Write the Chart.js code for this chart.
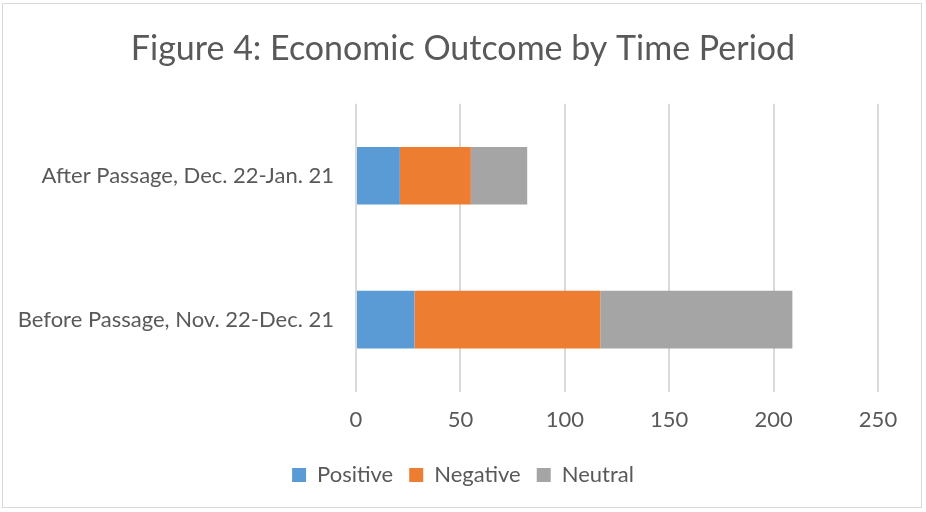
<!DOCTYPE html>
<html>
<head>
<meta charset="utf-8">
<script src="https://cdn.jsdelivr.net/npm/chart.js@4"></script>
<style>
html,body{margin:0;padding:0;background:#fff;}
#wrap{position:absolute;left:0;top:0;width:926px;height:512px;}
#frame{position:absolute;left:2px;top:3px;width:920px;height:505px;border:1px solid #d9d9d9;box-sizing:border-box;pointer-events:none;}
canvas{display:block;}
</style>
</head>
<body>
<div id="wrap"><canvas id="c" width="926" height="512"></canvas><div id="frame"></div></div>
<script>
const categories = ["After Passage, Dec. 22-Jan. 21", "Before Passage, Nov. 22-Dec. 21"];
const positive = [21, 28];
const negative = [34, 89];
const neutral = [27, 92];
const seriesNames = ["Positive", "Negative", "Neutral"];
const seriesColors = ["#5b9bd5", "#ed7d31", "#a5a5a5"];
const titleText = "Figure 4: Economic Outcome by Time Period";

const FONT = "Lato, 'Open Sans', sans-serif";
const ctx = document.getElementById('c');
new Chart(ctx, {
  type: 'bar',
  data: {
    labels: categories,
    datasets: [positive, negative, neutral].map((d, i) => ({
      label: seriesNames[i],
      data: d,
      backgroundColor: seriesColors[i],
      borderWidth: 0,
      categoryPercentage: 0.8,
      barPercentage: 0.5
    }))
  },
  options: {
    responsive: false,
    animation: false,
    indexAxis: 'y',
    layout: { padding: { left: 48, right: 48, top: 18, bottom: 16 } },
    plugins: {
      title: {
        display: true, text: titleText, color: '#595959',
        font: { family: FONT, size: 34, weight: 'normal' },
        padding: { top: 11, bottom: 34 }
      },
      legend: {
        position: 'bottom',
        labels: {
          color: '#595959', font: { family: FONT, size: 22 },
          boxWidth: 14, boxHeight: 14, padding: 16
        }
      },
      tooltip: { enabled: false }
    },
    scales: {
      x: {
        stacked: true, min: 0, max: 250,
        ticks: { stepSize: 50, color: '#595959', font: { family: FONT, size: 22 }, padding: 15 },
        grid: { color: '#d9d9d9', lineWidth: 2, drawTicks: false },
        border: { display: false }
      },
      y: {
        stacked: true,
        afterFit: (scale) => {
          scale.width = 308;
          scale._computeLabelArea = () => undefined;
        },
        ticks: { color: '#595959', font: { family: FONT, size: 22 }, padding: 22 },
        grid: { display: false, drawTicks: false },
        border: { display: false }
      }
    }
  }
});
</script>
</body>
</html>
